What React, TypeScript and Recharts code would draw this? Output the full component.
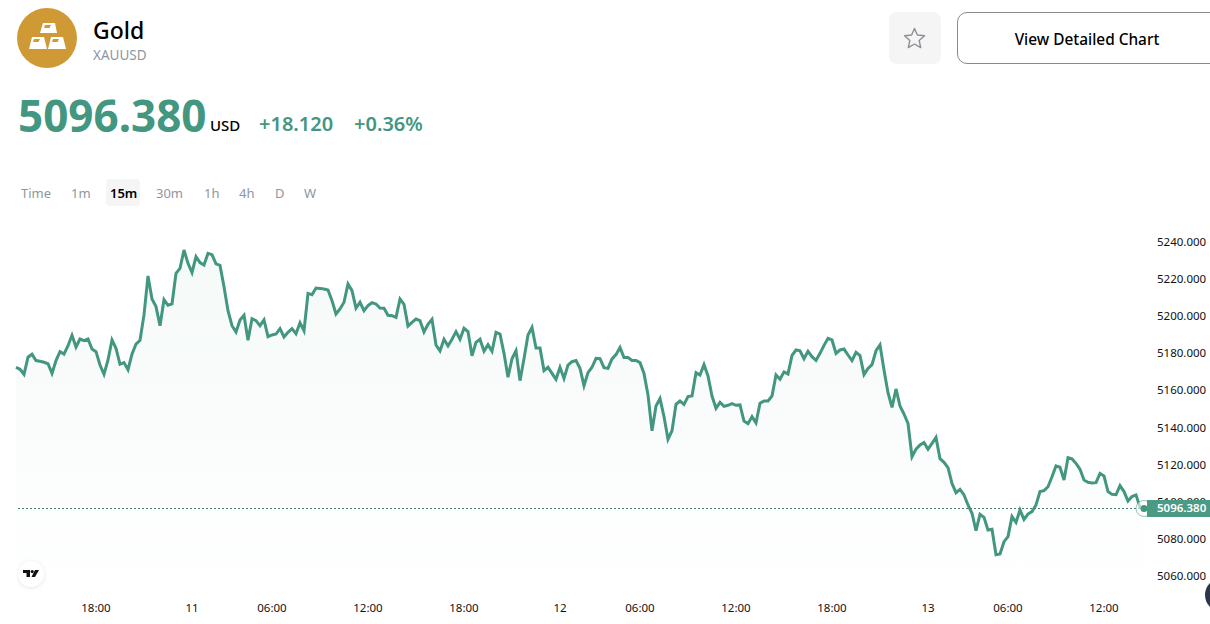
import { AreaChart, Area, XAxis, YAxis, ReferenceLine, ReferenceDot } from "recharts"

// 15m XAUUSD closes
const pricesOct10 = [
  5172.5, 5171.4, 5168.7, 5177.9, 5179.5, 5176.1, 5175.7, 5175.2, 5174.4, 5169.2, 5176.1, 5180.9,
  5179.6, 5184.1, 5189.7, 5183.4, 5187.7, 5186.8, 5187.7, 5182.3, 5180.9, 5173.7, 5168.7, 5176.4,
  5187.2, 5182.7, 5174.1, 5175.0, 5171.2, 5179.6, 5185.0, 5187.0, 5200.7, 5221.7, 5209.3, 5205.2,
  5194.9, 5208.9, 5205.9, 5206.6, 5223.1, 5225.8, 5235.7, 5228.5,
]
const pricesDay11 = [
  5223.5, 5232.1, 5228.9, 5227.6, 5233.9, 5233.2, 5228.2, 5227.4, 5215.9, 5203.0, 5194.9, 5191.5,
  5198.0, 5200.5, 5187.0, 5198.7, 5197.6, 5194.9, 5198.0, 5189.0, 5189.9, 5190.4, 5193.3, 5188.8,
  5191.3, 5193.3, 5190.6, 5196.5, 5192.2, 5212.3, 5211.6, 5215.2, 5215.0, 5214.7, 5214.1, 5208.4,
  5201.2, 5203.9, 5207.5, 5217.4, 5213.8, 5204.4, 5207.5, 5203.0, 5205.7, 5207.3, 5206.6, 5204.4,
  5204.3, 5200.5, 5200.3, 5199.4, 5209.3, 5206.4, 5194.7, 5196.7, 5198.5, 5197.6, 5191.5, 5195.6,
  5198.3, 5184.5, 5181.3, 5187.6, 5184.0, 5187.6, 5191.7, 5187.6, 5193.5, 5191.7, 5178.7, 5185.9,
  5187.6, 5181.1, 5184.7, 5181.1, 5191.3, 5190.4, 5180.0, 5167.1, 5177.1, 5181.4, 5165.3, 5177.1,
  5189.9, 5194.0, 5182.9, 5182.9, 5170.7, 5172.5, 5169.2, 5166.0,
]
const pricesDay12 = [
  5172.5, 5166.5, 5173.7, 5175.5, 5176.1, 5171.9, 5162.6, 5169.6, 5172.5, 5177.3, 5177.1, 5172.3,
  5171.9, 5177.0, 5179.3, 5183.1, 5177.7, 5177.7, 5176.2, 5176.2, 5175.0, 5169.2, 5157.6, 5138.3,
  5151.6, 5155.6, 5145.9, 5133.7, 5138.3, 5152.5, 5154.3, 5152.5, 5156.7, 5157.0, 5169.6, 5168.3,
  5173.9, 5167.8, 5157.0, 5150.4, 5153.6, 5151.4, 5152.0, 5152.9, 5152.0, 5152.2, 5143.5, 5142.1,
  5145.9, 5142.5, 5153.1, 5154.3, 5154.3, 5157.0, 5168.3, 5166.0, 5170.0, 5168.9, 5178.9, 5181.8,
  5181.4, 5177.1, 5181.1, 5178.2, 5176.2, 5180.0, 5184.3, 5188.1, 5187.2, 5180.0, 5181.8, 5182.3,
  5179.1, 5176.1, 5180.5, 5178.8, 5168.5, 5171.9, 5173.9, 5181.4, 5184.5, 5171.0, 5158.8, 5150.9,
  5160.8, 5151.6, 5147.3, 5142.3, 5124.3, 5128.4, 5130.6, 5131.9,
]
const pricesDay13 = [
  5128.3, 5131.5, 5134.7, 5123.2, 5121.3, 5118.4, 5109.9, 5104.9, 5106.7, 5103.7, 5098.3, 5093.8,
  5084.4, 5093.2, 5091.6, 5084.8, 5085.2, 5071.5, 5071.9, 5078.5, 5081.2, 5092.0, 5088.9, 5095.6,
  5090.5, 5093.4, 5094.7, 5098.3, 5105.5, 5106.0, 5108.1, 5113.5, 5119.3, 5118.6, 5111.7, 5123.8,
  5123.1, 5120.7, 5117.5, 5111.7, 5110.5, 5110.1, 5110.3, 5115.3, 5113.9, 5105.5, 5104.0, 5103.8,
  5108.7, 5105.5, 5100.4, 5102.8, 5103.7, 5097.0, 5096.38,
]
const prices = [...pricesOct10, ...pricesDay11, ...pricesDay12, ...pricesDay13]
const data = prices.map((price, bar) => ({ bar, price }))

const xTickBars = [20, 44, 64, 88, 112, 136, 156, 180, 204, 228, 248, 272]
const xTickLabels = ["18:00", "11", "06:00", "12:00", "18:00", "12", "06:00", "12:00", "18:00", "13", "06:00", "12:00"]
const yTicks = [5060, 5080, 5100, 5120, 5140, 5160, 5180, 5200, 5220, 5240]
const intervals = ["Time", "1m", "15m", "30m", "1h", "4h", "D", "W"]
const activeInterval = "15m"
const lastPrice = 5096.38

const GREEN = "#43967f"
const FONT = '"Noto Sans", sans-serif'

// last price is the last tick on the axis so its tag paints over 5100.000
function PriceTick({ x, y, payload }: any) {
  const isLast = payload.value === lastPrice
  return (
    <g>
      {isLast && <rect x={x - 10} y={y - 8.5} width={66} height={17} fill="#4a9a85" />}
      <text x={x} y={y + 4} fontSize={11.5} fontWeight={isLast ? 600 : 400} fill={isLast ? "#fff" : "#111"} fontFamily={FONT}>
        {payload.value.toFixed(3)}
      </text>
    </g>
  )
}

function LastPriceDot({ cx, cy }: { cx?: number; cy?: number }) {
  if (cx === undefined || cy === undefined) return null
  return (
    <g>
      <circle cx={cx} cy={cy} r={8} fill="#fff" fillOpacity={0.6} stroke={GREEN} strokeOpacity={0.55} strokeWidth={1} />
      <circle cx={cx} cy={cy} r={3.5} fill={GREEN} />
    </g>
  )
}

function GoldIcon() {
  return (
    <svg width={60} height={60} style={{ position: "absolute", left: 17, top: 8 }}>
      <circle cx={30} cy={30} r={30} fill="#cf9a35" />
      <g fill="#fff">
        <path d="M26 15 H38 L40 25 H23 Z" />
        <path d="M15 29 H27 L30 41 H12 Z" />
        <path d="M34 29 H46 L49 41 H31 Z" />
      </g>
      <g fill="#cf9a35">
        <path d="M28 17 H34 L32.5 20 H27 Z" />
        <path d="M17 31 H23 L21.5 34 H16 Z" />
        <path d="M36 31 H42 L40.5 34 H35 Z" />
      </g>
    </svg>
  )
}

function Header() {
  return (
    <>
      <GoldIcon />
      <div style={{ position: "absolute", left: 93, top: 14, fontSize: 23, fontWeight: 500, color: "#000" }}>Gold</div>
      <div style={{ position: "absolute", left: 93, top: 46, fontSize: 13.5, color: "#8f959e" }}>XAUUSD</div>
      <div style={{ position: "absolute", left: 18, top: 85, fontSize: 44, fontWeight: 700, color: GREEN, lineHeight: "60px" }}>5096.380</div>
      <div style={{ position: "absolute", left: 210, top: 115, fontSize: 15, fontWeight: 500, color: "#000" }}>USD</div>
      <div style={{ position: "absolute", left: 259, top: 110, fontSize: 20, fontWeight: 600, color: GREEN }}>+18.120</div>
      <div style={{ position: "absolute", left: 354, top: 110, fontSize: 20, fontWeight: 600, color: GREEN }}>+0.36%</div>

      <div style={{ position: "absolute", left: 889, top: 12, width: 52, height: 52, borderRadius: 8, background: "#f5f5f5" }}>
        <svg width={52} height={52}>
          <path d="M25.5 16.5 L28.4 23 L35.5 23.8 L30.2 28.6 L31.7 35.6 L25.5 32 L19.3 35.6 L20.8 28.6 L15.5 23.8 L22.6 23 Z" fill="none" stroke="#8d8f94" strokeWidth={1.4} strokeLinejoin="round" />
        </svg>
      </div>
      <div style={{ position: "absolute", left: 957, top: 12, width: 270, height: 50, border: "1px solid #8a8a8a", borderRadius: 10, boxSizing: "content-box" }} />
      <div style={{ position: "absolute", left: 958, top: 14, width: 258, height: 52, lineHeight: "52px", textAlign: "center", fontSize: 15.4, fontWeight: 500, color: "#000" }}>View Detailed Chart</div>

      {intervals.map((name, i) => {
        const lefts = [21, 71, 110, 156, 204, 239, 275, 304]
        const active = name === activeInterval
        return (
          <div key={name} style={{ position: "absolute", left: lefts[i], top: 184, fontSize: 13, lineHeight: "18px", fontWeight: active ? 600 : 400, color: active ? "#000" : "#8f959e" }}>
            {name}
          </div>
        )
      })}
      <div style={{ position: "absolute", left: 106, top: 179, width: 34, height: 27, borderRadius: 4, background: "#f5f5f5", zIndex: -1 }} />
    </>
  )
}

function Overlays() {
  return (
    <>
      <div style={{ position: "absolute", left: 17, top: 555, width: 30, height: 42, overflow: "hidden" }}>
        <div style={{ position: "absolute", left: 1, top: 6, width: 26, height: 26, borderRadius: 13, background: "#fff", boxShadow: "0 1px 5px rgba(0,0,0,0.10)" }} />
        <svg width={18} height={10} style={{ position: "absolute", left: 5, top: 14 }}>
          <path d="M1 1 H8 V8 H4.5 V4 H1 Z" fill="#111" />
          <circle cx={10.2} cy={2.6} r={1.6} fill="#111" />
          <path d="M13 1 H17 L13 8 H9.5 Z" fill="#111" />
        </svg>
      </div>
      <div style={{ position: "absolute", left: 1205, top: 578, width: 34, height: 34, borderRadius: 17, background: "#2b3648" }} />
    </>
  )
}

export default function App() {
  return (
    <div style={{ position: "absolute", left: 0, top: 0, width: 1210, height: 624, overflow: "hidden", background: "#fff", fontFamily: FONT, zIndex: 0 }}>
      <Header />
      <div style={{ position: "absolute", left: 0, top: 0 }}>
        <AreaChart width={1210} height={624} data={data} margin={{ top: 223.44, right: 0, bottom: 0, left: 16 }}>
          <defs>
            <linearGradient id="goldFill" x1="0" y1="0" x2="0" y2="1">
              <stop offset="0%" stopColor={GREEN} stopOpacity={0.09} />
              <stop offset="100%" stopColor={GREEN} stopOpacity={0} />
            </linearGradient>
          </defs>
          <XAxis
            dataKey="bar"
            type="number"
            domain={[0, 282]}
            ticks={xTickBars}
            interval={0}
            height={29.44}
            axisLine={false}
            tickLine={false}
            tickMargin={3}
            tick={{ fontSize: 11.5, fill: "#111", fontFamily: FONT }}
            tickFormatter={(bar: number) => xTickLabels[xTickBars.indexOf(bar)]}
          />
          <YAxis
            orientation="right"
            domain={[5050, 5250]}
            ticks={[...yTicks, lastPrice]}
            interval={0}
            width={66}
            axisLine={false}
            tickLine={false}
            tickSize={0}
            tickMargin={13}
            tick={PriceTick}
          />
          <Area
            type="linear"
            dataKey="price"
            stroke={GREEN}
            strokeWidth={3}
            fill="url(#goldFill)"
            dot={false}
            activeDot={false}
            isAnimationActive={false}
          />
          <ReferenceLine y={lastPrice} stroke="#4c7f72" strokeWidth={1} strokeDasharray="2 2" />
          <ReferenceDot x={282} y={lastPrice} shape={LastPriceDot} ifOverflow="visible" />
        </AreaChart>
      </div>
      <Overlays />
    </div>
  )
}
